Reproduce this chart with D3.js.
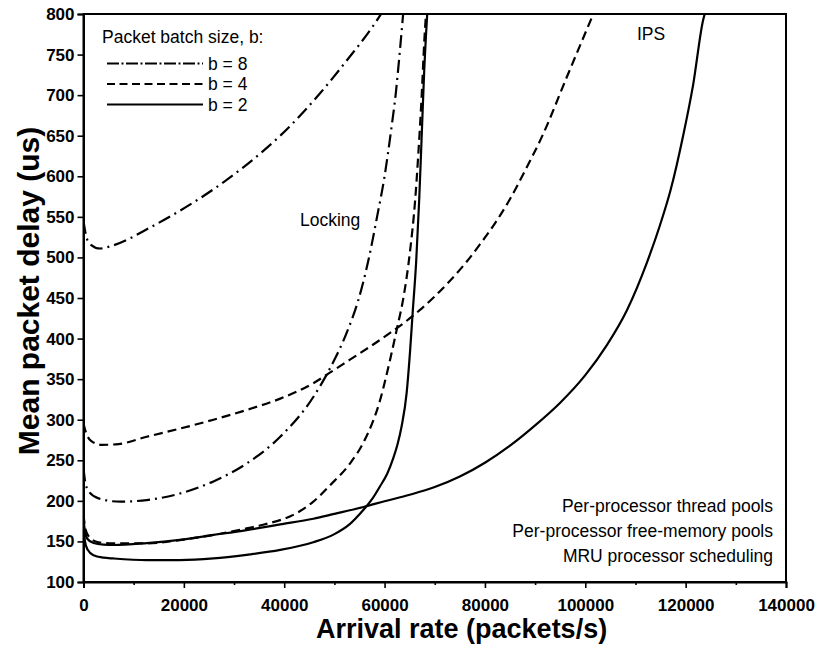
<!DOCTYPE html>
<html>
<head>
<meta charset="utf-8">
<script src="https://cdn.jsdelivr.net/npm/d3@7"></script>
<style>
  html, body { margin: 0; padding: 0; background: #fff; }
  svg { display: block; font-family: "Liberation Sans", Arial, sans-serif; }
</style>
</head>
<body>
<svg id="chart" width="820" height="657"></svg>
<script>
// Mean packet delay (us) versus arrival rate (packets/s), [rate, delay] pairs
const ipsB8 = [[0,545],[400,530],[1200,517],[3300,511],[6000,515],[13600,538],[21200,565],[28200,594],[35200,628],[39200,650],[47100,702],[52500,743],[57800,786],[59300,800]];
const ipsB4 = [[0,295],[500,284],[1500,274],[3600,269],[7000,270],[12600,279],[19200,289],[25900,300],[32500,312],[39200,326],[45800,345],[49100,358],[53100,374],[57100,390],[61100,407],[64000,420],[67000,435],[70000,452],[73000,471],[76000,492],[79000,516],[82000,542],[85000,572],[88000,607],[91600,652],[96300,722],[101600,800]];
const ipsB2 = [[0,178],[300,162],[800,153],[2000,148],[4000,146],[5900,145.6],[12600,148],[19200,152],[25900,158],[32500,164],[39200,171],[45800,178],[50000,184],[55800,192.5],[60000,199.5],[65000,207.5],[70000,217],[75000,230],[80000,247],[85000,268],[90000,293],[95000,321],[100000,355],[104300,392],[108300,435],[112300,494],[114900,540],[117000,583],[119500,650],[121500,713],[123500,793],[123800,800]];
const lockB8 = [[0,240],[300,225],[1000,212],[3000,203],[7300,199],[12600,201],[19200,209],[25900,224],[32500,246],[39200,279],[45800,328],[49100,363],[52500,408],[54700,446],[56800,497],[58500,550],[60000,600],[61200,652],[62300,706],[63100,758],[63700,800]];
const lockB4 = [[0,183],[400,165],[1200,155],[3000,149],[5900,147.6],[12600,147.6],[19200,151.7],[25900,158],[32500,166],[35800,170.5],[42500,185],[45800,199],[49100,219],[53100,246],[55800,272],[59100,324],[61100,374],[62600,416],[63600,445],[65100,509],[66100,571],[66700,625],[67400,700],[67900,765],[68250,800]];
const lockB2 = [[0,168],[300,150],[800,140],[2000,133],[4000,130],[6000,129],[12600,127],[19200,127],[25900,129],[32500,133.5],[39200,139.5],[45800,149],[50000,159],[53000,171],[55800,189],[57500,202],[59100,218],[60500,233],[61700,252],[62600,270],[63400,292],[64400,333],[65100,386],[65600,432],[66300,495],[66900,571],[67400,650],[67900,730],[68500,800]];

const xTicks = [0, 20000, 40000, 60000, 80000, 100000, 120000, 140000];
const xMinorTicks = [10000, 30000, 50000, 70000, 90000, 110000, 130000];
const yTicks = [100, 150, 200, 250, 300, 350, 400, 450, 500, 550, 600, 650, 700, 750, 800];

const legendTitle = "Packet batch size, b:";
const legendLabels = ["b = 8", "b = 4", "b = 2"];
const noteLines = ["Per-processor thread pools", "Per-processor free-memory pools", "MRU processor scheduling"];

const svg = d3.select("#chart");
const plotL = 83.5, plotR = 786, plotT = 14, plotB = 582;

const x = d3.scaleLinear().domain([0, 140000]).range([plotL, plotR]);
const y = d3.scaleLinear().domain([100, 800]).range([plotB, plotT]);

const dashDot = "13,5,2,5";
const dashed = "9,5";

svg.append("defs").append("clipPath").attr("id", "plotClip")
  .append("rect").attr("x", plotL).attr("y", plotT).attr("width", plotR - plotL).attr("height", plotB - plotT);

const line = d3.line().x(d => x(d[0])).y(d => y(d[1])).curve(d3.curveMonotoneX);

const series = [
  { data: ipsB8, dash: dashDot },
  { data: ipsB4, dash: dashed },
  { data: ipsB2, dash: null },
  { data: lockB8, dash: dashDot },
  { data: lockB4, dash: dashed },
  { data: lockB2, dash: null }
];

svg.append("g").attr("clip-path", "url(#plotClip)")
  .selectAll("path").data(series).join("path")
  .attr("d", d => line(d.data))
  .attr("fill", "none")
  .attr("stroke", "#000")
  .attr("stroke-width", 2.2)
  .attr("stroke-dasharray", d => d.dash);

// Axes
const fontTick = "bold 17px 'Liberation Sans', Arial, sans-serif";

svg.append("g").attr("transform", `translate(0,${plotB})`)
  .call(d3.axisBottom(x).tickValues(xTicks).tickFormat(d3.format("d")).tickSize(6).tickPadding(11));
svg.append("g").attr("transform", `translate(0,${plotB})`)
  .call(d3.axisBottom(x).tickValues(xMinorTicks).tickFormat("").tickSize(3))
  .call(g => g.select(".domain").remove());
svg.append("g").attr("transform", `translate(${plotL},0)`)
  .call(d3.axisLeft(y).tickValues(yTicks).tickFormat(d3.format("d")).tickSize(6).tickPadding(3));

svg.selectAll(".tick line").attr("stroke", "#000").attr("stroke-width", 1.6);
svg.selectAll(".domain").attr("stroke", "#000").attr("stroke-width", 2);
svg.selectAll(".tick text").style("font", fontTick).attr("fill", "#000");

// Frame
svg.append("rect").attr("x", plotL).attr("y", plotT).attr("width", plotR - plotL).attr("height", plotB - plotT)
  .attr("fill", "none").attr("stroke", "#000").attr("stroke-width", 2);

// Axis titles
svg.append("text").attr("x", 316).attr("y", 638)
  .style("font", "bold 27px 'Liberation Sans', Arial, sans-serif")
  .text("Arrival rate (packets/s)");
svg.append("text").attr("transform", `translate(39,291) rotate(-90)`)
  .attr("text-anchor", "middle")
  .style("font", "bold 30px 'Liberation Sans', Arial, sans-serif")
  .text("Mean packet delay (us)");

// Legend
const fontNote = "17.5px 'Liberation Sans', Arial, sans-serif";
svg.append("text").attr("x", 102).attr("y", 43).style("font", fontNote).text(legendTitle);
const legendDash = ["12,2.5,2,2.5", "8,4.5", null];
const legendY = [63.5, 84, 104.5];
legendLabels.forEach((lab, i) => {
  svg.append("line").attr("x1", 107).attr("x2", 203).attr("y1", legendY[i]).attr("y2", legendY[i])
    .attr("stroke", "#000").attr("stroke-width", 2.2).attr("stroke-dasharray", legendDash[i]);
  svg.append("text").attr("x", 208).attr("y", legendY[i]).attr("dy", "0.36em")
    .style("font", fontNote).text(lab);
});

// Curve group labels
svg.append("text").attr("x", 300).attr("y", 226).style("font", fontNote).text("Locking");
svg.append("text").attr("x", 637).attr("y", 40).style("font", fontNote).text("IPS");

// Configuration note
noteLines.forEach((t, i) => {
  svg.append("text").attr("x", 773).attr("y", 512 + i * 25).attr("text-anchor", "end")
    .style("font", fontNote).text(t);
});
</script>
</body>
</html>
